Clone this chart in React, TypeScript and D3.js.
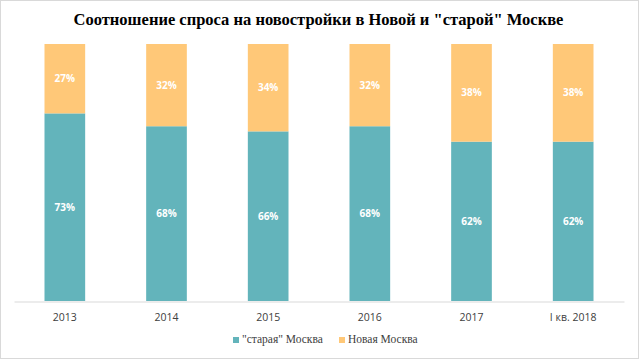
import React, { useEffect, useRef } from 'react';
import * as d3 from 'd3';

const categories = ['2013', '2014', '2015', '2016', '2017', 'I кв. 2018'];
const oldMoscow = [73, 68, 66, 68, 62, 62];
const newMoscow = [27, 32, 34, 32, 38, 38];
const seriesNames = ['"старая" Москва', 'Новая Москва'];
const colors = ['#63B4BB', '#FFC878'];

const App = () => {
  const svgRef = useRef<SVGSVGElement>(null);

  useEffect(() => {
    const width = 639;
    const height = 359;
    const margin = { top: 44, right: 15, bottom: 58, left: 14 };

    const svg = d3.select(svgRef.current);
    svg.selectAll('*').remove();
    svg.attr('width', width).attr('height', height);

    // outer frame
    svg.append('rect')
      .attr('x', 0.5).attr('y', 0.5)
      .attr('width', width - 1).attr('height', height - 1)
      .attr('fill', '#fff').attr('stroke', '#d9d9d9');

    svg.append('text')
      .attr('x', width / 2 - 1).attr('y', 25)
      .attr('text-anchor', 'middle')
      .attr('font-family', '"Liberation Serif", "Times New Roman", serif')
      .attr('font-weight', 'bold')
      .attr('font-size', 16.5)
      .attr('fill', '#000')
      .text('Соотношение спроса на новостройки в Новой и "старой" Москве');

    const x = d3.scaleBand()
      .domain(categories)
      .range([margin.left, width - margin.right])
      .paddingInner(0.6)
      .paddingOuter(0.3);

    const y = d3.scaleLinear()
      .domain([0, 100])
      .range([height - margin.bottom, margin.top]);

    const rows = categories.map((c, i) => ({ cat: c, old: oldMoscow[i], nw: newMoscow[i] }));
    const stack = d3.stack<any>().keys(['old', 'nw'])(rows);

    const font = '"Open Sans", "Liberation Sans", sans-serif';

    stack.forEach((layer, li) => {
      const g = svg.append('g');
      g.selectAll('rect')
        .data(layer)
        .enter().append('rect')
        .attr('x', d => x(d.data.cat)!)
        .attr('y', d => y(d[1]))
        .attr('width', x.bandwidth())
        .attr('height', d => y(d[0]) - y(d[1]))
        .attr('fill', colors[li]);
      g.selectAll('text')
        .data(layer)
        .enter().append('text')
        .attr('x', d => x(d.data.cat)! + x.bandwidth() / 2)
        .attr('y', d => (y(d[0]) + y(d[1])) / 2 + 3.5)
        .attr('text-anchor', 'middle')
        .attr('font-family', font)
        .attr('font-weight', 'bold')
        .attr('font-size', 10)
        .attr('fill', '#fff')
        .text(d => `${d[1] - d[0]}%`);
    });

    // x axis
    const axis = svg.append('g')
      .attr('transform', `translate(0,${height - margin.bottom + 0.5})`)
      .call(d3.axisBottom(x).tickSize(0).tickPadding(12));
    axis.select('.domain').attr('stroke', '#d9d9d9');
    axis.selectAll('text')
      .attr('font-family', font)
      .attr('font-size', 10.5)
      .attr('fill', '#404040');

    // legend
    const legend = svg.append('g').attr('transform', 'translate(233,343)');
    const offsets = [0, 106];
    seriesNames.forEach((name, i) => {
      legend.append('rect')
        .attr('x', offsets[i]).attr('y', -6)
        .attr('width', 6).attr('height', 6)
        .attr('fill', colors[i]);
      legend.append('text')
        .attr('x', offsets[i] + 9).attr('y', 0)
        .attr('font-family', '"Liberation Serif", "Times New Roman", serif')
        .attr('font-size', 11.5)
        .attr('fill', '#404040')
        .text(name);
    });
  }, []);

  return (
    <div>
      <style>{'body{margin:0}'}</style>
      <svg ref={svgRef} style={{ display: 'block' }}></svg>
    </div>
  );
};

export default App;
